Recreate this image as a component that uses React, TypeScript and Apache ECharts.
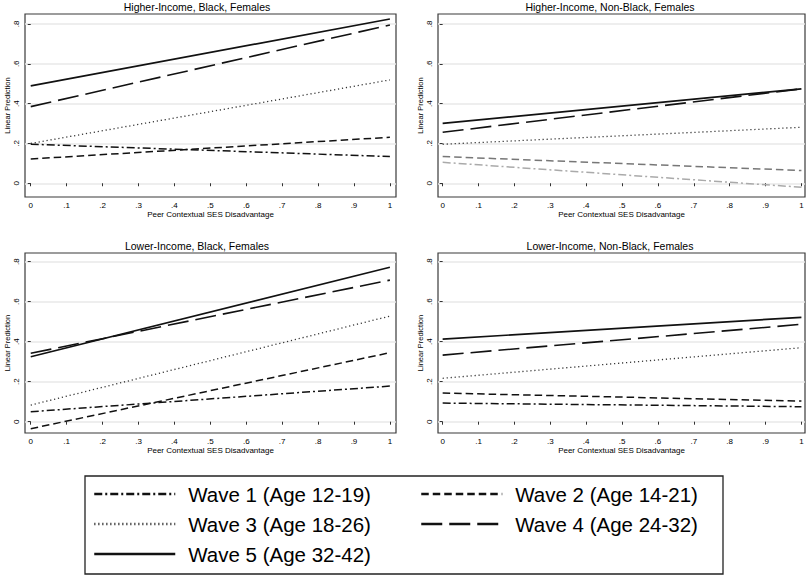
import { useEffect, useRef } from 'react';
import * as echarts from 'echarts';

const FONT = '"Liberation Sans", Arial, Helvetica, sans-serif';

const panelTitles = [
  'Higher-Income, Black, Females',
  'Higher-Income, Non-Black, Females',
  'Lower-Income, Black, Females',
  'Lower-Income, Non-Black, Females',
];

const waveNames = [
  'Wave 1 (Age 12-19)',
  'Wave 2 (Age 14-21)',
  'Wave 3 (Age 18-26)',
  'Wave 4 (Age 24-32)',
  'Wave 5 (Age 32-42)',
];

const xValues = [0, 1];
const xTicks = [0, 0.1, 0.2, 0.3, 0.4, 0.5, 0.6, 0.7, 0.8, 0.9, 1];
const yTicks = [0, 0.2, 0.4, 0.6, 0.8];
const xAxisTitle = 'Peer Contextual SES Disadvantage';
const yAxisTitle = 'Linear Prediction';

// predictions at x = 0 and x = 1, waves 1..5
const higherIncomeBlack = [
  [0.196, 0.134],
  [0.122, 0.231],
  [0.2, 0.519],
  [0.385, 0.795],
  [0.489, 0.825],
];
const higherIncomeNonBlack = [
  [0.105, -0.02],
  [0.134, 0.064],
  [0.196, 0.281],
  [0.256, 0.474],
  [0.301, 0.474],
];
const lowerIncomeBlack = [
  [0.05, 0.178],
  [-0.035, 0.345],
  [0.083, 0.528],
  [0.342, 0.708],
  [0.325, 0.772],
];
const lowerIncomeNonBlack = [
  [0.093, 0.075],
  [0.143, 0.103],
  [0.217, 0.37],
  [0.333, 0.487],
  [0.413, 0.522],
];

const panelData = [higherIncomeBlack, higherIncomeNonBlack, lowerIncomeBlack, lowerIncomeNonBlack];

const waveStyles: any[] = [
  { type: [8, 3, 2, 3], width: 1.5, color: '#111' },
  { type: [7.5, 4], width: 1.5, color: '#111' },
  { type: [1.2, 2.8], width: 1.3, color: '#333' },
  { type: [21, 7], width: 1.6, color: '#111' },
  { type: 'solid', width: 1.7, color: '#111' },
];
// panel 2 draws waves 1 and 2 in grey
const panelColorOverrides: Record<string, string> = { '1-0': '#aaaaaa', '1-1': '#777777' };

const grids = [
  { left: 25, top: 14, width: 371, height: 183 },
  { left: 438, top: 14, width: 367, height: 183 },
  { left: 25, top: 253, width: 371, height: 180 },
  { left: 438, top: 253, width: 367, height: 180 },
];
const xRanges = [
  [-0.016, 1.017],
  [-0.013, 1.01],
  [-0.016, 1.017],
  [-0.013, 1.01],
];
const yRanges = [
  [-0.069, 0.85],
  [-0.069, 0.85],
  [-0.0565, 0.8435],
  [-0.0565, 0.8435],
];
const titleCenters = [
  [197, 1.5],
  [610, 1.5],
  [197, 240.5],
  [610, 240.5],
];
const legendSlots = [
  [93, 494],
  [420, 494],
  [93, 524],
  [420, 524],
  [93, 554],
];

const fmt = (v: number) => {
  if (v === 0) return '0';
  if (v === 1) return '1';
  return String(Math.round(v * 10) / 10).replace(/^0/, '').replace(/^-0/, '-');
};

export default function App() {
  const ref = useRef<HTMLDivElement>(null);
  useEffect(() => {
    if (!ref.current) return;
    const chart = echarts.init(ref.current, undefined, { renderer: 'svg' });

    const series: any[] = [];
    panelData.forEach((panel, p) => {
      panel.forEach((vals, w) => {
        const st = waveStyles[w];
        const color = panelColorOverrides[`${p}-${w}`] || st.color;
        series.push({
          type: 'line',
          name: waveNames[w],
          xAxisIndex: p,
          yAxisIndex: p,
          data: xValues.map((x, j) => [x, vals[j]]),
          symbol: 'none',
          showSymbol: false,
          color,
          lineStyle: { color, width: st.width, type: st.type, cap: 'butt' },
          emphasis: { disabled: true },
          silent: true,
          z: 10 - w,
        });
      });
    });

    const option: any = {
      animation: false,
      backgroundColor: '#fff',
      title: panelTitles.map((t, i) => ({
        text: t,
        left: titleCenters[i][0],
        top: titleCenters[i][1],
        textAlign: 'center',
        padding: 0,
        textStyle: { fontSize: 10.5, fontWeight: 'normal', fontFamily: FONT, color: '#000' },
      })),
      grid: grids.map((g) => ({
        ...g,
        show: true,
        borderColor: '#3a3a3a',
        borderWidth: 1.2,
        containLabel: false,
      })),
      xAxis: grids.map((_, i) => ({
        type: 'value',
        gridIndex: i,
        min: xRanges[i][0],
        max: xRanges[i][1],
        axisLine: { show: false },
        axisTick: { show: true, length: 3, lineStyle: { color: '#333' }, customValues: xTicks },
        axisLabel: {
          customValues: xTicks,
          formatter: fmt,
          fontSize: 8,
          fontFamily: FONT,
          color: '#000',
          margin: 4,
        },
        splitLine: { show: false },
        name: xAxisTitle,
        nameLocation: 'middle',
        nameGap: 13,
        nameTextStyle: { fontSize: 8, fontFamily: FONT, color: '#000' },
      })),
      yAxis: grids.map((_, i) => ({
        type: 'value',
        gridIndex: i,
        min: yRanges[i][0],
        max: yRanges[i][1],
        axisLine: { show: false },
        axisTick: { show: true, length: 3, lineStyle: { color: '#333' }, customValues: yTicks },
        axisLabel: {
          customValues: yTicks,
          formatter: fmt,
          rotate: 90,
          fontSize: 8,
          fontFamily: FONT,
          color: '#000',
          margin: 5,
        },
        splitLine: { show: true, lineStyle: { color: '#e8e8e8', width: 1.5 } },
        name: yAxisTitle,
        nameLocation: 'middle',
        nameGap: 14,
        nameTextStyle: { fontSize: 7.5, fontFamily: FONT, color: '#000' },
      })),
      legend: waveNames.map((n, i) => ({
        data: [n],
        left: legendSlots[i][0],
        top: legendSlots[i][1] - 12,
        padding: 0,
        itemWidth: 81,
        itemHeight: 14,
        selectedMode: false,
        itemStyle: { opacity: 0, borderWidth: 0 },
        lineStyle: { width: 2.5 },
        textStyle: {
          fontSize: 20.5,
          fontFamily: FONT,
          color: '#000',
          lineHeight: 24,
          padding: [0, 0, 0, 8],
        },
      })),
      graphic: [
        {
          type: 'rect',
          shape: { x: 85, y: 476, width: 638, height: 98 },
          style: { fill: 'none', stroke: '#222', lineWidth: 1.3 },
          silent: true,
        },
      ],
      series,
    };
    chart.setOption(option);
    return () => chart.dispose();
  }, []);
  return (
    <div
      ref={ref}
      style={{ position: 'fixed', left: 0, top: 0, width: 810, height: 577, background: '#fff' }}
    />
  );
}
